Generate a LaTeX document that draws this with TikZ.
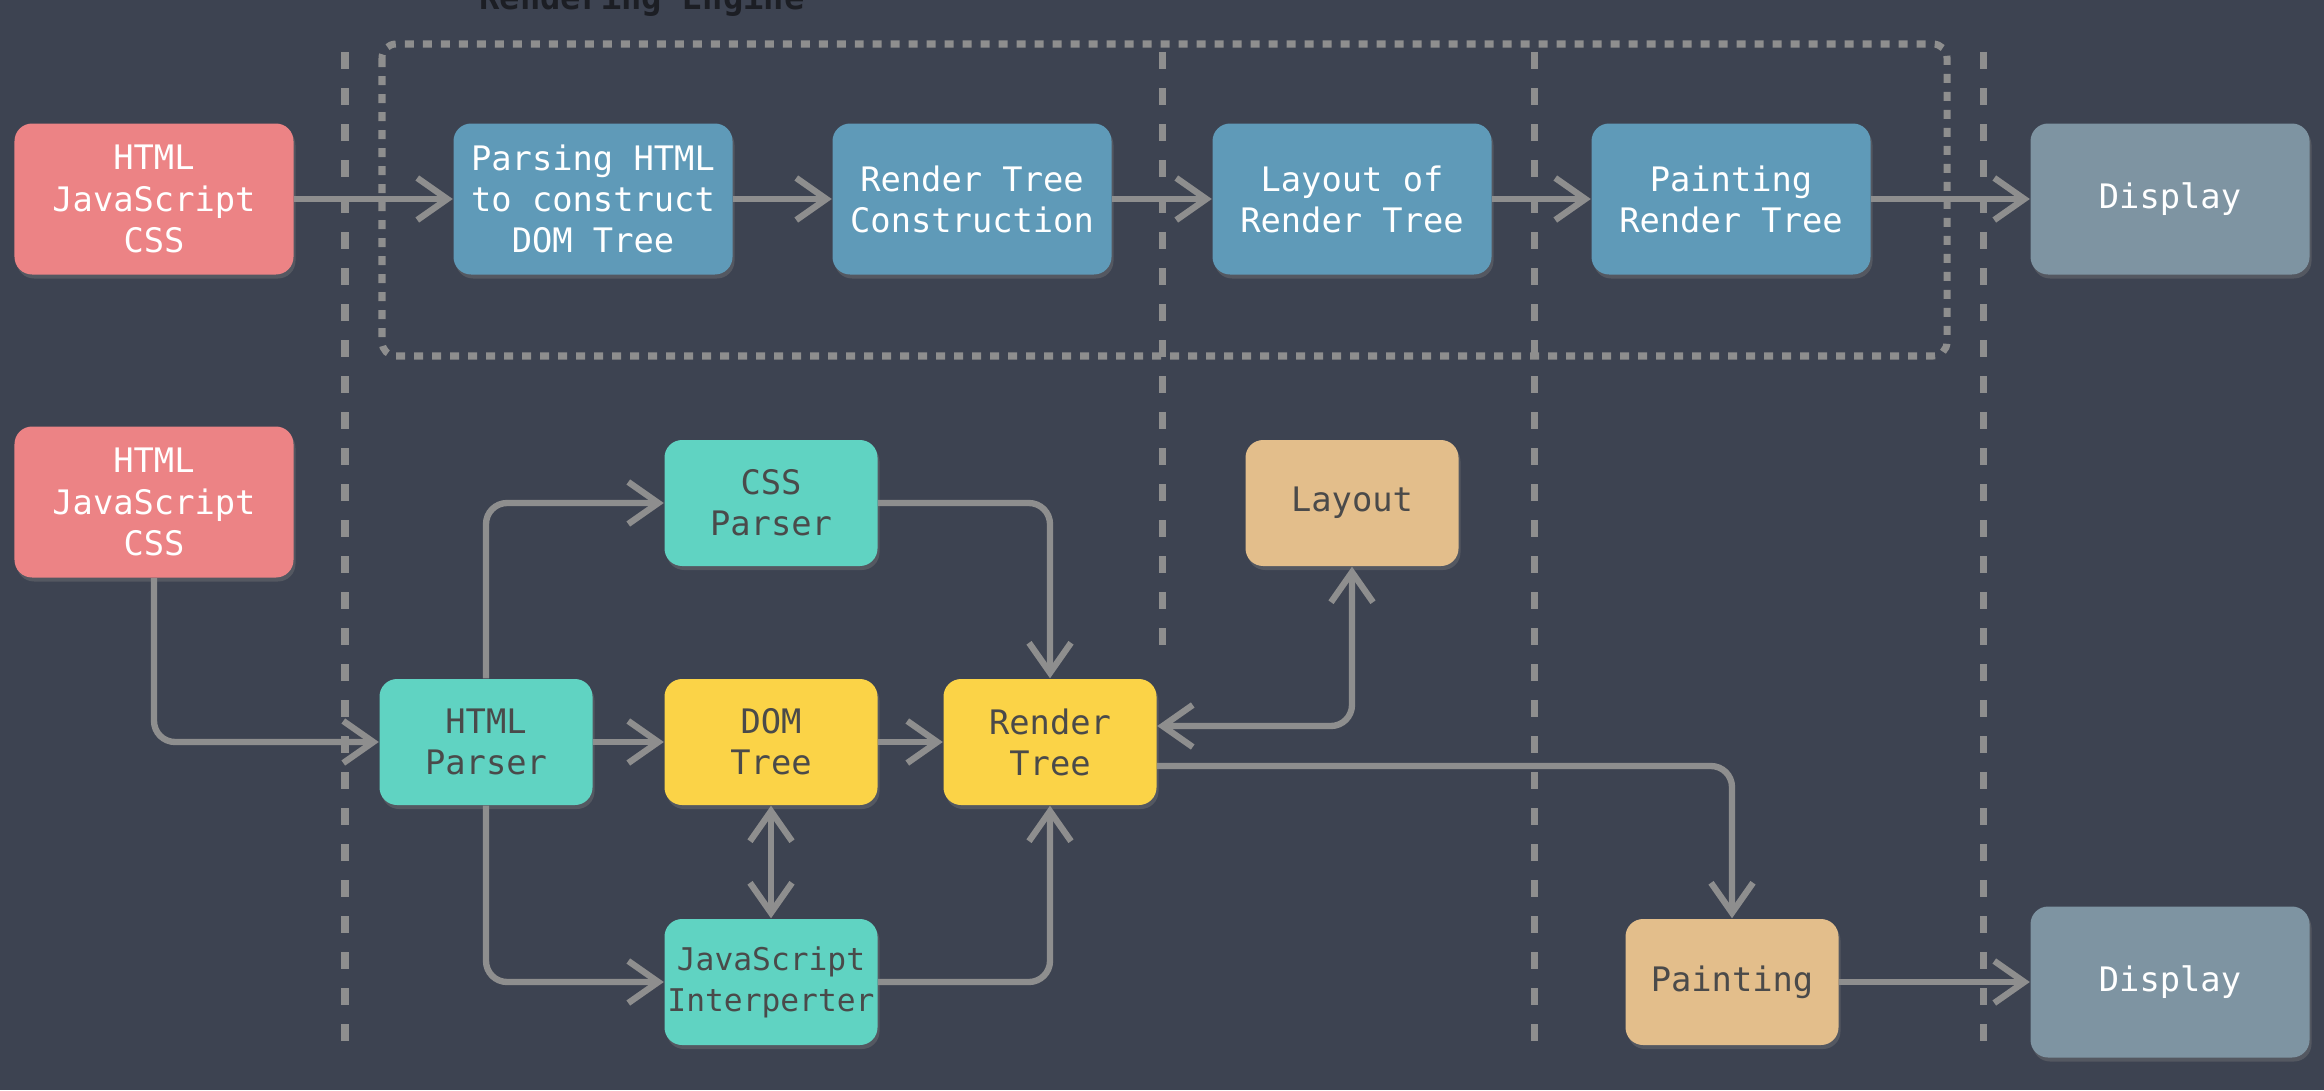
\documentclass[tikz,border=0pt]{standalone}
\usepackage{fontspec}
\newfontfamily\boxfont{DejaVu Sans Mono}
\usetikzlibrary{arrows.meta,shadows}

\definecolor{board}{HTML}{3D4351}
\definecolor{htmlred}{HTML}{EC8385}
\definecolor{stageblue}{HTML}{5F9AB8}
\definecolor{dispgray}{HTML}{7E94A2}
\definecolor{parseteal}{HTML}{60D3C2}
\definecolor{treeyellow}{HTML}{FBD347}
\definecolor{steptan}{HTML}{E3BE8B}
\definecolor{chalk}{HTML}{8E8E8E}
\definecolor{darktext}{HTML}{4A4A4A}

\tikzset{
bigbox/.style={rectangle, rounded corners=5pt, inner sep=0pt,
minimum width=2.79cm, minimum height=1.51cm, text=white,
font=\boxfont\fontsize{9.6}{11.7}\selectfont, align=center,
drop shadow={shadow xshift=0.02cm, shadow yshift=-0.04cm, opacity=0.35}},
smallbox/.style={bigbox, minimum width=2.13cm, minimum height=1.26cm, text=darktext},
barb/.tip={Straight Barb[length=0.3cm, width=0.42cm]},
arr/.style={draw=chalk, line width=1.8pt, rounded corners=6pt, -barb},
dblarr/.style={arr, barb-barb},
guide/.style={draw=chalk, line width=2pt, dash pattern=on 0.17cm off 0.19cm}
}

\begin{document}
\begin{tikzpicture}
% 1cm = 100px of the picture
\useasboundingbox (0, 0) rectangle (23.24, 10.9);
\clip (0, 0) rectangle (23.24, 10.9);
\fill[board] (0, 0) rectangle (23.24, 10.9);
\node[anchor=base west, text=black!55!board, font=\boxfont\bfseries\fontsize{9.6}{11.7}\selectfont]
	(title) at (4.67, 10.80) {Rendering Engine};
\draw[chalk, line width=2pt, dash pattern=on 0.09cm off 0.09cm, rounded corners=4pt]
	(3.82, 10.46) rectangle (19.47, 7.34);
\draw[guide] (3.45, 10.38) -- (3.45, 0.38);
\draw[guide] (11.62, 10.38) -- (11.62, 4.38);
\draw[guide] (15.34, 10.38) -- (15.34, 0.38);
\draw[guide] (19.83, 10.38) -- (19.83, 0.38);
% top row
\node[bigbox, fill=htmlred] (html1) at (1.54, 8.91) {HTML\\JavaScript\\CSS};
\node[bigbox, fill=stageblue] (parse) at (5.93, 8.91) {Parsing HTML\\to construct\\DOM Tree};
\node[bigbox, fill=stageblue] (rtc) at (9.72, 8.91) {Render Tree\\Construction};
\node[bigbox, fill=stageblue] (lort) at (13.52, 8.91) {Layout of\\Render Tree};
\node[bigbox, fill=stageblue] (prt) at (17.31, 8.91) {Painting\\Render Tree};
\node[bigbox, fill=dispgray] (disp1) at (21.70, 8.91) {Display};
\draw[arr] (html1) -- (parse);
\draw[arr] (parse) -- (rtc);
\draw[arr] (rtc) -- (lort);
\draw[arr] (lort) -- (prt);
\draw[arr] (prt) -- (disp1);
% bottom part
\node[bigbox, fill=htmlred] (html2) at (1.54, 5.88) {HTML\\JavaScript\\CSS};
\node[smallbox, fill=parseteal] (css) at (7.71, 5.87) {CSS\\Parser};
\node[smallbox, fill=steptan] (lay) at (13.52, 5.87) {Layout};
\node[smallbox, fill=parseteal] (hp) at (4.86, 3.48) {HTML\\Parser};
\node[smallbox, fill=treeyellow] (dom) at (7.71, 3.48) {DOM\\Tree};
\node[smallbox, fill=treeyellow] (rt) at (10.50, 3.48) {Render\\Tree};
\node[smallbox, fill=parseteal, font=\boxfont\fontsize{8.9}{11.7}\selectfont]
	(js) at (7.71, 1.08) {JavaScript\\Interperter};
\node[smallbox, fill=steptan] (paint) at (17.32, 1.08) {Painting};
\node[bigbox, fill=dispgray] (disp2) at (21.70, 1.08) {Display};
\draw[arr] (html2.south) |- (hp.west);
\draw[arr] (hp.north) |- (css.west);
\draw[arr] (css.east) -| (rt.north);
\draw[arr] (hp) -- (dom);
\draw[arr] (dom) -- (rt);
\draw[dblarr] (dom) -- (js);
\draw[arr] (hp.south) |- (js.west);
\draw[arr] (js.east) -| (rt.south);
\draw[dblarr] ([yshift=0.16cm]rt.east) -| (lay.south);
\draw[arr] ([yshift=-0.24cm]rt.east) -| (paint.north);
\draw[arr] (paint) -- (disp2);
\end{tikzpicture}
\end{document}
